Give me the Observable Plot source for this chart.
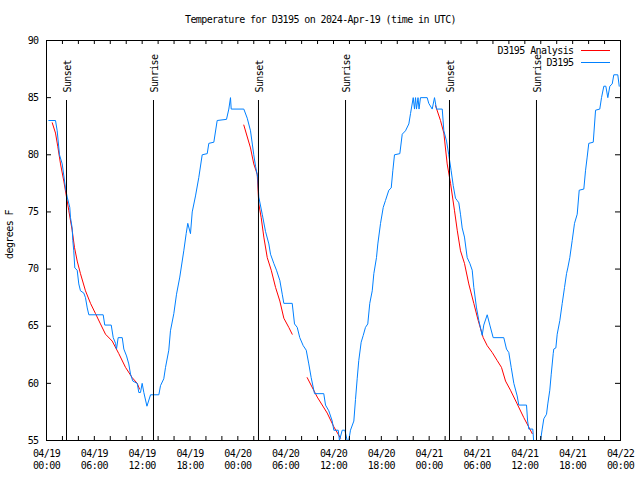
<!DOCTYPE html>
<html>
<head>
<meta charset="utf-8">
<script src="https://cdn.jsdelivr.net/npm/d3@7"></script>
<script src="https://cdn.jsdelivr.net/npm/@observablehq/plot@0.6"></script>
<style>
  html, body { margin: 0; padding: 0; background: #fff; }
</style>
</head>
<body>
<div id="chart"></div>
<script>
const titleText = "Temperature for D3195 on 2024-Apr-19 (time in UTC)";
const yLabel = "degrees F";
const seriesNames = ["D3195 Analysis", "D3195"];
const seriesColors = ["#ff0000", "#0080ff"];
const yTicks = [55, 60, 65, 70, 75, 80, 85, 90];
const eventHours = [2.51, 13.42, 26.59, 37.51, 50.55, 61.46];
const eventLabels = ["Sunset", "Sunrise", "Sunset", "Sunrise", "Sunset", "Sunrise"];

// observed (hours since 2024-04-19 00:00 UTC, °F)
const obsReadings = [
[0.29,83],[1.13,83],[1.34,82.1],[1.63,80],[1.97,79.2],[2.38,77.1],[2.60,76.3],[2.92,75.4],[3.01,74.5],[3.22,73.6],[3.30,72.5],[3.42,71.6],[3.55,70.1],[3.85,69.9],[4.05,68.7],[4.26,68.1],[4.68,67.9],[4.89,67.5],[5.11,66.6],[5.31,66],[7.11,66],[7.31,65.1],[8.12,65.1],[8.37,64],[8.66,63.5],[8.78,63],[8.99,64],[9.50,64],[9.70,63],[10.04,62.4],[10.32,61.7],[10.54,60.8],[10.83,60.2],[11.38,60],[11.58,59.2],[11.79,59.2],[12.00,60],[12.21,59.2],[12.6,58],[13.05,59],[14.09,59],[14.30,59.8],[14.71,60.4],[14.93,61.4],[15.34,62.9],[15.55,64.6],[15.97,66.1],[16.31,67.8],[16.72,69.3],[17.22,71.6],[17.52,73.1],[17.72,74],[18.06,73.1],[18.28,75],[18.69,76.4],[19.10,78],[19.53,80],[20.16,80.1],[20.36,81],[20.99,81.1],[21.41,83],[22.58,83.1],[22.87,84],[23.08,85],[23.17,84],[24.75,84],[25.18,83.2],[25.59,82.1],[26.00,80],[26.22,79],[26.50,78],[26.63,76.3],[27.06,74.8],[27.47,73.3],[27.89,72.2],[28.10,71.3],[28.51,70.5],[28.85,69.9],[29.27,69],[29.57,67.8],[29.77,67],[30.82,67],[31.11,65.2],[31.45,64.9],[31.77,64],[32.20,63.3],[32.58,62.9],[32.90,61.7],[33.20,60.5],[33.62,59.1],[34.78,59.1],[35.00,58.1],[35.41,57.6],[35.84,56.7],[36.04,55.9],[36.59,55.9],[36.75,55],[37.09,55.9],[37.42,55.9],[37.72,55],[37.92,55],[38.13,55.9],[38.55,56.7],[38.76,58.6],[38.97,60.4],[39.17,62],[39.47,63.6],[39.73,64.2],[40.01,64.9],[40.30,65.2],[40.55,67],[40.86,68.1],[41.06,69.6],[41.39,71],[41.56,72.2],[41.90,74],[42.24,75.4],[42.52,76],[42.94,76.9],[43.24,77.1],[43.44,78.6],[43.65,80],[44.32,80.1],[44.62,81.8],[45.03,82.1],[45.45,82.7],[45.66,83.6],[46.00,85],[46.16,84],[46.29,85],[46.41,84],[46.60,85],[46.73,84],[46.91,85],[47.75,85],[47.95,84.5],[48.38,84],[48.67,85],[48.92,84],[49.64,84],[49.84,82.1],[50.18,81.2],[50.46,80],[50.76,78.6],[51.02,77.3],[51.30,76.2],[51.52,76],[51.72,75.8],[51.93,74.8],[52.14,73.6],[52.43,72.8],[52.77,71],[53.10,70.5],[53.40,69.9],[53.60,68.4],[53.94,66.6],[54.23,65.5],[54.65,64.2],[54.85,65.1],[55.28,66],[55.61,65.1],[56.03,64],[57.36,64],[57.70,63],[57.99,62.7],[58.29,61.4],[58.62,60],[59.04,58.9],[59.24,58.1],[60.21,58.1],[60.35,56.7],[60.5,56],[61.0,56],[61.1,55],[61.3,54],[61.8,54],[61.97,55],[62.18,56],[62.38,56.9],[62.72,57.3],[62.88,58.2],[63.13,59.4],[63.31,60.8],[63.56,62.6],[63.63,63],[63.89,63.1],[64.06,64.3],[64.39,65.5],[64.69,67],[64.98,68.4],[65.23,69.6],[65.39,70.1],[65.64,71],[65.94,72.5],[66.23,74],[66.57,74.8],[66.82,76.9],[67.40,77],[67.61,78.6],[67.82,79.8],[68.02,81],[68.58,81.1],[68.87,83.9],[69.40,84],[69.62,85],[69.91,86],[70.16,86],[70.41,85],[70.66,86],[70.96,86.2],[71.16,87],[71.66,87],[71.84,86]
];

// analysis segments
const anaSeg1 = [[0.72,82.8],[1.13,81.9],[1.42,80.7],[1.76,79.2],[2.17,77.7],[2.51,76.3],[2.80,75.1],[3.22,73.4],[3.51,71.9],[3.85,70.7],[4.26,69.6],[4.89,68.1],[5.52,67],[6.15,66.1],[6.77,65.2],[7.40,64.3],[8.24,63.7],[9.07,62.6],[9.91,61.4],[10.75,60.5],[11.38,60],[11.67,59.5]];
const anaSeg2 = [[24.75,82.6],[25.59,80.6],[26.00,79.2],[26.43,78.3],[26.63,75.7],[26.93,74.5],[27.26,72.8],[27.69,71.0],[28.19,69.9],[28.73,68.4],[29.27,67.2],[29.77,65.7],[30.39,64.9],[30.82,64.3]];
const anaSeg3 = [[32.70,60.5],[33.96,58.8],[35.21,57.4],[36.04,56.2],[36.88,55.2]];
const anaSeg4 = [[48.80,84.3],[49.42,83],[49.84,81.9],[50.26,79.2],[50.68,77.5],[51.18,75.1],[51.52,73.4],[51.93,71.6],[52.43,70.5],[52.97,68.7],[53.60,67],[54.15,65.5],[54.78,64],[55.28,63.3],[55.91,62.7],[56.53,62],[57.07,61.4],[57.58,60.2],[58.20,59.4],[59.04,58.2],[59.87,57],[60.63,56],[60.93,55.6]];

const t0 = Date.UTC(2024, 3, 19);
const toDate = h => new Date(t0 + h * 3600e3);
const start = toDate(0), end = toDate(72);

const obs = obsReadings.map(([h, t]) => ({time: toDate(h), temp: t}));
const ana = [anaSeg1, anaSeg2, anaSeg3, anaSeg4].flatMap((seg, k) =>
  seg.map(([h, t]) => ({time: toDate(h), temp: t, seg: k})));
const events = eventHours.map((h, i) => ({time: toDate(h), label: eventLabels[i]}));

const minorTicks = d3.utcHour.every(2).range(start, end).filter(d => +d !== +start);
const majorTicks = d3.utcHour.every(6).range(start, d3.utcHour.offset(end, 1));
const fmt = d3.utcFormat("%m/%d\n%H:%M");
const innerY = yTicks.filter(v => v !== 55 && v !== 90);

const font = "DejaVu Sans Mono";

const chart = Plot.plot({
  width: 640,
  height: 480,
  marginLeft: 46,
  marginRight: 20,
  marginTop: 40,
  marginBottom: 40,
  style: {fontFamily: font, fontSize: "10px", letterSpacing: "-0.6px", background: "#fff", color: "#000"},
  x: {type: "utc", domain: [start, end], axis: null},
  y: {domain: [55, 90], axis: null},
  marks: [
    Plot.line(ana, {x: "time", y: "temp", z: "seg", stroke: seriesColors[0], strokeWidth: 1, clip: true}),
    Plot.line(obs, {x: "time", y: "temp", stroke: seriesColors[1], strokeWidth: 1, clip: true}),
    Plot.ruleX(events, {x: "time", stroke: "#000", strokeWidth: 1, insetTop: 60}),
    Plot.text(events, {x: "time", text: "label", frameAnchor: "top", dy: 52, dx: 1, rotate: -90, textAnchor: "start", lineAnchor: "middle", fill: "#000"}),
    // ticks
    Plot.ruleX(minorTicks, {x: d => d, insetTop: 396, stroke: "#000"}),
    Plot.ruleX(minorTicks, {x: d => d, insetBottom: 396, stroke: "#000"}),
    Plot.ruleY(innerY, {y: d => d, insetRight: 569, stroke: "#000"}),
    Plot.ruleY(innerY, {y: d => d, insetLeft: 569, stroke: "#000"}),
    Plot.frame({stroke: "#000"}),
    // tick labels
    Plot.text(majorTicks, {x: d => d, text: d => fmt(d), frameAnchor: "bottom", dy: 19, lineHeight: 1.2, lineAnchor: "middle", textAnchor: "middle", fill: "#000"}),
    Plot.text(yTicks, {y: d => d, text: d => String(d), frameAnchor: "left", dx: -8, textAnchor: "end", lineAnchor: "middle", fill: "#000"}),
    // title and axis label
    Plot.text([titleText], {frameAnchor: "top", dy: -21, dx: -13, textAnchor: "middle", lineAnchor: "middle", fill: "#000"}),
    Plot.text([yLabel], {frameAnchor: "left", dx: -37, dy: -6, rotate: -90, textAnchor: "middle", lineAnchor: "middle", fill: "#000"}),
    // legend
    Plot.text([seriesNames[0]], {frameAnchor: "top-right", dx: -47, dy: 10, textAnchor: "end", lineAnchor: "middle", fill: "#000"}),
    Plot.text([seriesNames[1]], {frameAnchor: "top-right", dx: -47, dy: 22, textAnchor: "end", lineAnchor: "middle", fill: "#000"}),
    Plot.ruleY([0], {y: null, insetLeft: 535, insetRight: 10, dy: -190, stroke: seriesColors[0]}),
    Plot.ruleY([0], {y: null, insetLeft: 535, insetRight: 10, dy: -178, stroke: seriesColors[1]})
  ]
});
document.getElementById("chart").appendChild(chart);
</script>
</body>
</html>
